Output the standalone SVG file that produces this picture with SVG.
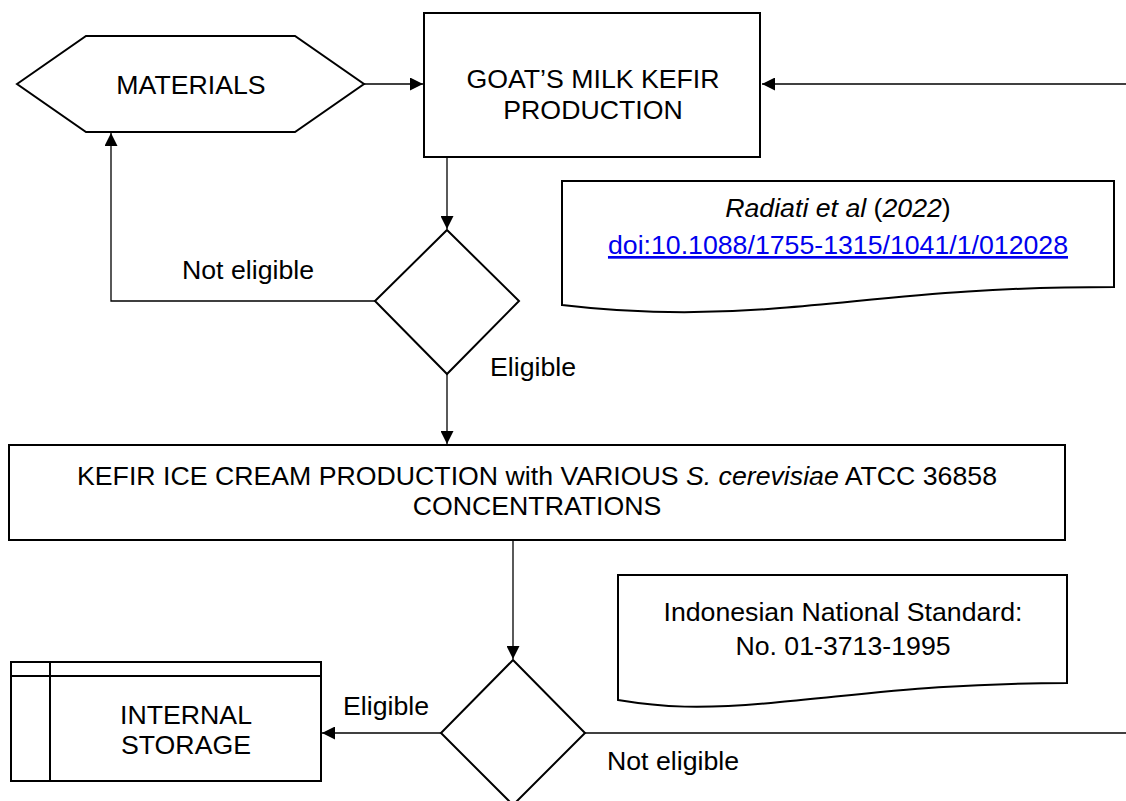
<svg xmlns="http://www.w3.org/2000/svg" width="1126" height="801" viewBox="0 0 1126 801">
<style>
text{font-family:"Liberation Sans",Arial,sans-serif;font-size:26.7px;fill:#000;text-anchor:middle}
.sh{fill:#fff;stroke:#000;stroke-width:2}
.cn{fill:none;stroke:#000;stroke-width:1.3}
.lbl{text-anchor:start}
</style>
<defs>
<marker id="ah" viewBox="0 0 10 10" refX="10" refY="5" markerWidth="13" markerHeight="13" markerUnits="userSpaceOnUse" orient="auto">
<path d="M0,0 L10,5 L0,10 Z" fill="#000"/>
</marker>
</defs>
<rect width="1126" height="801" fill="#fff"/>
<g id="connectors">
<path class="cn" d="M364,84 H423" marker-end="url(#ah)"/>
<path class="cn" d="M1126,84 H762" marker-end="url(#ah)"/>
<path class="cn" d="M447,157 V229" marker-end="url(#ah)"/>
<path class="cn" d="M375,301 H111 V133" marker-end="url(#ah)"/>
<path class="cn" d="M447,373 V444" marker-end="url(#ah)"/>
<path class="cn" d="M513,541 V659" marker-end="url(#ah)"/>
<path class="cn" d="M441,733 H322" marker-end="url(#ah)"/>
<path class="cn" d="M585,733 H1126"/>
<text class="lbl" x="182" y="279">Not eligible</text>
<text class="lbl" x="490" y="376">Eligible</text>
<text class="lbl" x="343" y="715">Eligible</text>
<text class="lbl" x="607" y="770">Not eligible</text>
</g>
<g id="materials">
<path class="sh" d="M17,84 L86,36 H295 L364,84 L295,132 H86 Z"/>
<text x="191" y="94">MATERIALS</text>
</g>
<g id="goat">
<rect class="sh" x="424" y="13" width="336" height="144"/>
<text x="593" y="88">GOAT’S MILK KEFIR</text>
<text x="593" y="119">PRODUCTION</text>
</g>
<g id="decision1">
<path class="sh" d="M447,230 L519,301 L447,374 L375,301 Z"/>
</g>
<g id="radiati">
<path class="sh" d="M562,181 H1114 V287 C960,287 880,300 780,308 C690,316 620,312 562,305 Z"/>
<text x="838" y="217"><tspan font-style="italic">Radiati et al</tspan> (<tspan font-style="italic">2022</tspan>)</text>
<text x="838" y="254" style="fill:#0000ee" text-decoration="underline">doi:10.1088/1755-1315/1041/1/012028</text>
</g>
<g id="kefir">
<rect class="sh" x="9" y="445" width="1056" height="95"/>
<text x="537" y="485">KEFIR ICE CREAM PRODUCTION with VARIOUS <tspan font-style="italic">S. cerevisiae</tspan> ATCC 36858</text>
<text x="537" y="515">CONCENTRATIONS</text>
</g>
<g id="sni">
<path class="sh" d="M618,575 H1067 V683 C940,683 860,695 780,702 C700,710 660,707 618,700 Z"/>
<text x="843" y="621">Indonesian National Standard:</text>
<text x="843" y="655">No. 01-3713-1995</text>
</g>
<g id="decision2">
<path class="sh" d="M513,660 L585,733 L513,805 L441,733 Z"/>
</g>
<g id="storage">
<rect class="sh" x="11" y="662" width="310" height="119"/>
<path class="sh" d="M11,676 H321 M50,662 V781"/>
<text x="186" y="724">INTERNAL</text>
<text x="186" y="754">STORAGE</text>
</g>
</svg>
